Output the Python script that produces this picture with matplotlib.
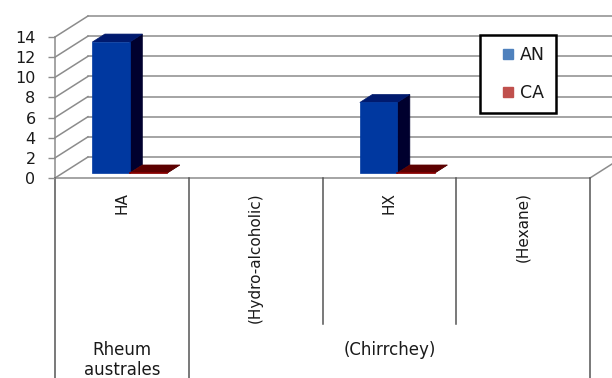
import matplotlib
matplotlib.use("Agg")
import matplotlib.pyplot as plt
from matplotlib.patches import Polygon, Rectangle
from matplotlib.lines import Line2D
from matplotlib.transforms import IdentityTransform, blended_transform_factory

# ---- data -------------------------------------------------------------
categories = ["HA", "(Hydro-alcoholic)", "HX", "(Hexane)"]
group_labels = ["Rheum\naustrales", "(Chirrchey)"]
group_spans = [(0, 0), (1, 3)]
series_names = ["AN", "CA"]
an_values = [13, None, 7, None]
ca_values = [0, None, 0, None]
y_ticks = [0, 2, 4, 6, 8, 10, 12, 14]

# ---- styling ----------------------------------------------------------
plt.rcParams["font.family"] = ["DejaVu Sans"]
W, H = 612, 378
DX, DY = 33, 21              # oblique depth of the plot box, in pixels
BAR_F0, BAR_F1 = 0.24, 0.62  # bar depth as fractions of the box depth
BAR_W = 0.28
GRID_C = "#8c8c8c"
TABLE_C = "#555555"
TEXT_C = "#1a1a1a"
face_colors = {
    "AN": {"front": "#0038a0", "side": "#00002e", "top": "#001a6e", "legend": "#4F81BD"},
    "CA": {"front": "#8b0000", "side": "#3a0000", "top": "#5c0000", "legend": "#C0504D"},
}

fig = plt.figure(figsize=(W / 100, H / 100), dpi=100)
fig.patch.set_facecolor("white")

left_px, right_px = 55, 590
base_px, top_px = 178, 37
ax = fig.add_axes([left_px / W, 1 - base_px / H,
                   (right_px - left_px) / W, (base_px - top_px) / H])
ax.set_xlim(-0.5, len(categories) - 0.5)
ax.set_ylim(0, 14)
ax.patch.set_visible(False)
for s in ax.spines.values():
    s.set_visible(False)
ax.set_xticks([])
ax.set_yticks(y_ticks)
ax.tick_params(axis="y", length=5, width=1, color=GRID_C, labelsize=11.5,
               pad=9, labelcolor=TEXT_C)

ident = IdentityTransform()


def px(x, y):
    return ax.transData.transform((x, y))


def seg(p, q, color, lw, z=1):
    ax.add_line(Line2D([p[0], q[0]], [p[1], q[1]], color=color, lw=lw,
                       transform=ident, clip_on=False, zorder=z))


def poly(pts, color, z=3):
    ax.add_patch(Polygon(pts, closed=True, facecolor=color, edgecolor=color,
                         lw=0.5, transform=ident, clip_on=False, zorder=z))


x_lo, x_hi = -0.5, len(categories) - 0.5

# side wall, back wall and gridlines
for v in y_ticks:
    f = px(x_lo, v)
    b = (f[0] + DX, f[1] + DY)
    seg(f, b, GRID_C, 1.1)
    seg(b, (px(x_hi, v)[0] + DX, b[1]), GRID_C, 1.1)
seg(px(x_lo, 0), px(x_lo, 14), GRID_C, 1.1)

# floor edges
f_r = px(x_hi, 0)
seg(px(x_lo, 0), f_r, GRID_C, 1.1)
seg(f_r, (f_r[0] + DX, f_r[1] + DY), GRID_C, 1.1)

# 3D bars
offsets = {"AN": -BAR_W / 2, "CA": BAR_W / 2}
o0 = (DX * BAR_F0, DY * BAR_F0)
o1 = (DX * BAR_F1, DY * BAR_F1)


def sh(p, o):
    return (p[0] + o[0], p[1] + o[1])


for name, values in zip(series_names, [an_values, ca_values]):
    c = face_colors[name]
    for i, v in enumerate(values):
        if v is None:
            continue
        x0 = i + offsets[name] - BAR_W / 2
        x1 = x0 + BAR_W
        a0, a1 = px(x0, 0), px(x1, 0)
        b0, b1 = px(x0, v), px(x1, v)
        poly([sh(a1, o0), sh(a1, o1), sh(b1, o1), sh(b1, o0)], c["side"])
        poly([sh(b0, o0), sh(b1, o0), sh(b1, o1), sh(b0, o1)], c["top"])
        if v > 0:
            poly([sh(a0, o0), sh(a1, o0), sh(b1, o0), sh(b0, o0)], c["front"])
        else:
            seg(sh(a0, o0), sh(a1, o0), c["front"], 1.2, z=4)

# category table under the floor
bottom_inner = H - 324
for k in range(len(categories) + 1):
    xb = px(x_lo + k, 0)[0]
    inner = any(s < k <= e for s, e in group_spans)
    seg((xb, px(0, 0)[1]), (xb, bottom_inner if inner else 0), TABLE_C, 1.1)

label_tr = blended_transform_factory(ax.transData, ident)
for i, lab in enumerate(categories):
    ax.text(i, H - 192, lab, rotation=90, ha="center", va="top",
            fontsize=11, color=TEXT_C, transform=label_tr, clip_on=False)
for lab, (s, e) in zip(group_labels, group_spans):
    ax.text((s + e) / 2, H - 341, lab, ha="center", va="top", linespacing=1.15,
            fontsize=12, color=TEXT_C, transform=label_tr, clip_on=False)

# legend: white framed box with the two series entries
box_l, box_t, box_r, box_b = 480, 35, 556, 113
fig.add_artist(Rectangle((box_l / W, 1 - box_b / H), (box_r - box_l) / W,
                         (box_b - box_t) / H, transform=fig.transFigure,
                         facecolor="white", edgecolor="black", lw=1.8, zorder=5))
handles = [Line2D([], [], ls="none", marker="s", markersize=7.2,
                  markerfacecolor=face_colors[n]["legend"],
                  markeredgecolor=face_colors[n]["legend"], label=n)
           for n in series_names]
leg = fig.legend(handles=handles, loc="upper left",
                 bbox_to_anchor=(499 / W, 1 - 46 / H), fontsize=12.5,
                 frameon=False, handlelength=1.0, handletextpad=0.2,
                 borderpad=0, labelspacing=1.15, borderaxespad=0)
leg.set_zorder(6)
for t in leg.get_texts():
    t.set_color(TEXT_C)

fig.savefig("out.png", dpi=100, facecolor="white")
